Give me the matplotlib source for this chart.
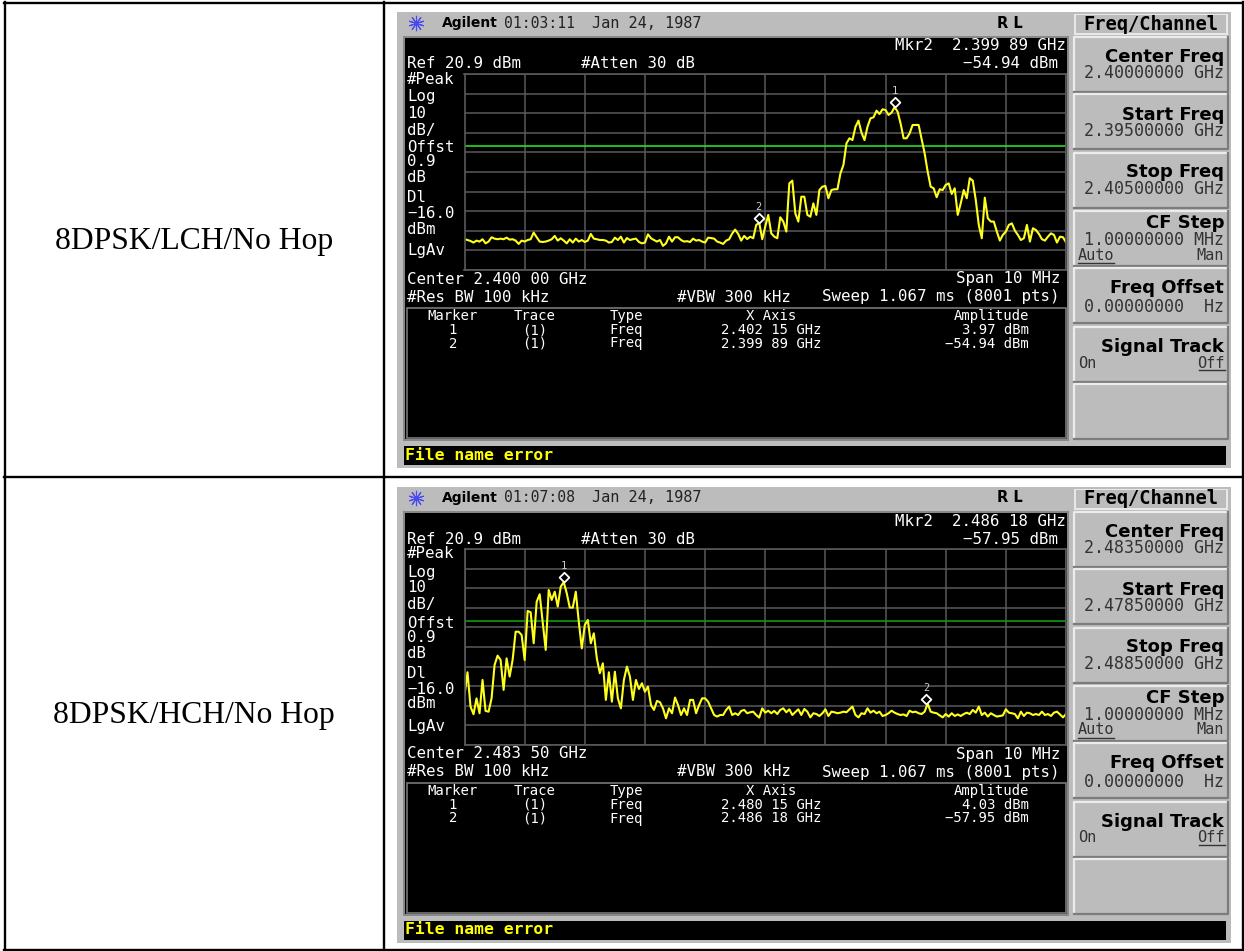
import numpy as np
import matplotlib
matplotlib.use("Agg")
import matplotlib.pyplot as plt
from matplotlib.patches import Rectangle

W, H = 1244, 951

row_labels = ["8DPSK/LCH/No Hop", "8DPSK/HCH/No Hop"]
clock = ["01:03:11", "01:07:08"]
center_text = ["2.400 00 GHz", "2.483 50 GHz"]
mkr_freq_text = ["2.399 89 GHz", "2.486 18 GHz"]
mkr_amp_text = ["\u221254.94 dBm", "\u221257.95 dBm"]
center_key = ["2.40000000 GHz", "2.48350000 GHz"]
start_key = ["2.39500000 GHz", "2.47850000 GHz"]
stop_key = ["2.40500000 GHz", "2.48850000 GHz"]
table_rows = [
    [("1", "(1)", "Freq", "2.402 15 GHz", "3.97 dBm"), ("2", "(1)", "Freq", "2.399 89 GHz", "\u221254.94 dBm")],
    [("1", "(1)", "Freq", "2.480 15 GHz", "4.03 dBm"), ("2", "(1)", "Freq", "2.486 18 GHz", "\u221257.95 dBm")],
]

start_ghz = [2.395, 2.4785]
stop_ghz = [2.405, 2.4885]
marker_x = [[2.40215, 2.39989], [2.48015, 2.48618]]
marker_y = [[3.97, -54.94], [4.03, -57.95]]
ref_level = 20.9
display_line = -16.0

# trace, one value every 0.05 MHz
trace_lch = [
    -63.4, -63.8, -64.3, -65.1, -64.1, -64.6, -63.4, -65.5, -64.6, -62.4,
    -63.1, -63.4, -63.1, -63.4, -62.6, -63.6, -63.4, -64.1, -65.8, -64.1,
    -64.6, -63.8, -63.4, -60.0, -62.4, -64.6, -64.8, -64.6, -64.1, -63.4,
    -61.7, -64.1, -62.9, -64.1, -65.5, -63.4, -65.1, -63.1, -64.6, -63.8,
    -64.8, -64.1, -60.7, -63.1, -63.4, -63.8, -63.8, -64.1, -65.1, -64.8,
    -62.6, -63.8, -62.1, -65.1, -62.8, -63.8, -63.4, -63.1, -64.8, -65.5,
    -65.1, -60.9, -62.9, -63.8, -64.6, -63.8, -66.8, -65.5, -62.1, -64.6,
    -62.4, -62.4, -63.8, -64.6, -64.4, -64.8, -63.1, -64.1, -63.8, -64.6,
    -65.1, -62.6, -62.8, -63.1, -64.6, -65.1, -65.8, -64.1, -63.4, -60.5,
    -58.5, -60.7, -64.1, -61.7, -63.3, -62.1, -62.9, -56.1, -55.0, -63.4,
    -57.0, -51.0, -60.4, -62.1, -62.9, -52.2, -54.4, -59.5, -34.9, -33.5,
    -50.2, -54.4, -41.7, -41.7, -51.0, -51.9, -45.1, -51.0, -38.3, -36.6,
    -36.2, -42.5, -38.3, -37.9, -37.9, -29.8, -25.5, -14.5, -11.9, -12.8,
    -6.0, -2.9, -9.0, -12.8, -6.0, -1.7, -1.2, 2.2, 0.5, 2.9,
    2.5, 0.0, 1.2, 4.0, 1.7, -4.3, -11.9, -11.9, -9.4, -5.1,
    -5.1, -5.1, -12.4, -19.6, -28.9, -36.6, -37.4, -42.0, -37.9, -38.3,
    -35.7, -34.9, -40.3, -37.4, -51.0, -45.1, -38.3, -42.5, -32.3, -33.5,
    -43.4, -56.1, -62.9, -42.2, -52.7, -54.4, -54.4, -59.5, -64.1, -61.2,
    -59.5, -56.1, -55.3, -59.0, -61.2, -63.8, -62.9, -56.1, -64.6, -57.8,
    -58.7, -60.7, -63.4, -64.1, -62.1, -60.4, -61.2, -65.1, -62.1, -62.4,
    -65.0,
]
trace_hch = [
    -53.6, -42.0, -59.5, -63.4, -55.3, -62.9, -45.9, -61.7, -62.1, -55.3,
    -38.3, -33.5, -35.7, -51.0, -34.9, -44.2, -35.7, -21.3, -21.3, -23.0,
    -35.7, -10.7, -11.4, -27.2, -6.0, -2.2, -16.2, -30.6, 0.0, -5.1,
    -0.9, -8.5, 1.7, 4.0, -1.7, -9.0, -9.0, -0.9, -16.2, -29.8,
    -17.9, -15.3, -27.2, -22.1, -34.9, -42.5, -37.4, -56.1, -42.0, -57.0,
    -41.7, -55.3, -60.4, -45.9, -39.1, -44.2, -56.1, -45.9, -50.5, -47.6,
    -51.9, -49.3, -58.7, -61.2, -56.6, -57.3, -60.4, -65.5, -60.4, -62.9,
    -54.9, -58.7, -63.8, -60.4, -63.8, -56.1, -56.1, -62.9, -58.7, -55.3,
    -55.3, -57.0, -60.4, -63.8, -64.6, -63.8, -63.8, -61.2, -59.5, -63.8,
    -62.9, -63.8, -61.7, -61.2, -62.9, -62.4, -62.1, -63.8, -65.1, -60.4,
    -62.6, -61.6, -62.9, -61.7, -63.3, -61.2, -60.4, -62.4, -60.9, -63.8,
    -62.3, -60.9, -63.8, -60.7, -62.1, -65.0, -62.9, -63.3, -64.3, -62.9,
    -60.9, -64.3, -62.1, -62.4, -62.9, -62.6, -62.1, -62.4, -60.9, -59.5,
    -63.8, -65.0, -62.9, -63.3, -60.4, -62.6, -61.6, -62.9, -62.1, -64.3,
    -63.8, -62.9, -61.6, -62.6, -63.3, -63.8, -63.5, -64.3, -61.6, -62.4,
    -62.1, -62.9, -63.3, -62.1, -58.0, -62.1, -62.6, -62.9, -64.0, -65.0,
    -63.3, -64.6, -62.9, -64.3, -63.5, -64.3, -63.3, -62.6, -63.3, -61.2,
    -62.6, -59.5, -63.8, -62.6, -64.6, -62.9, -63.8, -64.6, -64.3, -64.0,
    -60.9, -62.6, -62.9, -63.3, -65.5, -62.1, -64.3, -62.6, -62.9, -63.8,
    -63.3, -63.8, -62.1, -63.8, -63.3, -64.3, -62.6, -62.1, -63.5, -65.0,
    -63.3,
]
traces = [trace_lch, trace_hch]
green = ["#22e022", "#0f9a0f"]

GRAY = "#bcbcbc"
MONO = "DejaVu Sans Mono"
SCREEN_SIZE = 11.3
TABLE_SIZE = 10

fig = plt.figure(figsize=(W / 100, H / 100), dpi=100, facecolor="white")
bg = fig.add_axes([0, 0, 1, 1])
bg.set_xlim(0, W)
bg.set_ylim(H, 0)
bg.axis("off")


def box(x0, y0, x1, y1, color, z=1):
    bg.add_patch(Rectangle((x0, y0), x1 - x0, y1 - y0, facecolor=color, edgecolor="none", zorder=z))


def label(x, y, s, color="white", size=SCREEN_SIZE, ha="left", weight="normal", family=MONO):
    bg.text(x, y, s, color=color, fontsize=size, ha=ha, va="center", weight=weight, family=family, zorder=5)


def softkey(x0, y0, x1, y1):
    box(x0, y0, x1, y1, GRAY, 2)
    bg.plot([x0, x0, x1], [y1, y0, y0], color="#ececec", lw=1.6, zorder=3)
    bg.plot([x0, x1, x1], [y1, y1, y0], color="#7c7c7c", lw=1.6, zorder=3)


# table lines
for x in (5, 384, 1243):
    bg.plot([x, x], [2, 950], color="black", lw=1.7, zorder=6)
for y in (3, 477, 950):
    bg.plot([4, 1244], [y, y], color="black", lw=1.7, zorder=6)

for n in range(2):
    dy = 475 * n
    label(194, 241 + dy, row_labels[n], color="black", size=22.8, ha="center", family="Liberation Serif")

    # screen frame
    box(397, 12 + dy, 1231, 468 + dy, GRAY)
    box(403, 36 + dy, 1069, 441 + dy, "#888888")
    box(405, 38 + dy, 1067, 439 + dy, "black", 2)
    box(404, 446 + dy, 1226, 465 + dy, "black", 2)
    label(405, 455 + dy, "File name error", color="#ffff00", size=11.8, weight="bold")

    # header
    bg.plot([416], [23 + dy], marker=(10, 2, 0), color="#4a4af0", ms=11, mew=0.8, zorder=4)
    label(442, 23 + dy, "Agilent", color="black", size=10, weight="bold", family="DejaVu Sans")
    label(504, 23 + dy, clock[n], color="#222222", size=10.6)
    label(592, 23 + dy, "Jan 24, 1987", color="#222222", size=11)
    label(997, 23 + dy, "R L", color="black", size=10.5, weight="bold", family="DejaVu Sans")

    # readouts
    label(1066, 46 + dy, "Mkr2  " + mkr_freq_text[n], ha="right")
    label(407, 64 + dy, "Ref 20.9 dBm")
    label(581, 64 + dy, "#Atten 30 dB")
    label(1058, 64 + dy, mkr_amp_text[n], ha="right")
    side = [("#Peak", 79), ("Log", 97), ("10", 113), ("dB/", 130), ("Offst", 148), ("0.9", 162),
            ("dB", 178), ("Dl", 198), ("\u221216.0", 214), ("dBm", 229), ("LgAv", 251)]
    for s, y in side:
        label(407, y + dy, s)
    label(407, 279 + dy, "Center " + center_text[n])
    label(1061, 279 + dy, "Span 10 MHz", ha="right")
    label(407, 297 + dy, "#Res BW 100 kHz")
    label(677, 297 + dy, "#VBW 300 kHz")
    label(1059, 297 + dy, "Sweep 1.067 ms (8001 pts)", ha="right")

    # marker table
    bg.add_patch(Rectangle((407, 308 + dy), 659, 130, facecolor="none", edgecolor="#777777", lw=1.2, zorder=3))
    label(453, 316 + dy, "Marker", ha="center", size=TABLE_SIZE)
    label(535, 316 + dy, "Trace", ha="center", size=TABLE_SIZE)
    label(626, 316 + dy, "Type", ha="center", size=TABLE_SIZE)
    label(771, 316 + dy, "X Axis", ha="center", size=TABLE_SIZE)
    label(1029, 316 + dy, "Amplitude", ha="right", size=TABLE_SIZE)
    for k, row in enumerate(table_rows[n]):
        y = 330 + 13.5 * k + dy
        label(453, y, row[0], ha="center", size=TABLE_SIZE)
        label(535, y, row[1], ha="center", size=TABLE_SIZE)
        label(626, y, row[2], ha="center", size=TABLE_SIZE)
        label(771, y, row[3], ha="center", size=TABLE_SIZE)
        label(1029, y, row[4], ha="right", size=TABLE_SIZE)

    # softkeys
    box(1074, 14 + dy, 1228, 35 + dy, "#e8e8e8", 2)
    box(1076, 15 + dy, 1226, 33 + dy, GRAY, 2)
    label(1151, 24 + dy, "Freq/Channel", color="black", size=13.5, ha="center", weight="bold")
    keys = [("Center Freq", center_key[n], 20, 36), ("Start Freq", start_key[n], 21, 37),
            ("Stop Freq", stop_key[n], 19, 36), ("CF Step", "1.00000000 MHz", 12, 29),
            ("Freq Offset", "0.00000000  Hz", 20, 39), ("Signal Track", "", 20, 0), ("", "", 0, 0)]
    tops = [37, 94, 153, 211, 268, 327, 384]
    for (title, sub, title_dy, sub_dy), top in zip(keys, tops):
        softkey(1074, top + dy, 1228, top + 55 + dy)
        if title:
            label(1224, top + title_dy + dy, title, color="black", size=13, ha="right", weight="bold", family="DejaVu Sans")
        if sub:
            label(1224, top + sub_dy + dy, sub, color="#333333", size=12, ha="right")
    label(1078, 255 + dy, "Auto", color="#333333", size=11)
    bg.plot([1078, 1114], [263 + dy, 263 + dy], color="#333333", lw=1, zorder=5)
    label(1224, 255 + dy, "Man", color="#333333", size=11, ha="right")
    label(1078, 363 + dy, "On", color="#333333", size=11)
    label(1224, 363 + dy, "Off", color="#333333", size=11, ha="right")
    bg.plot([1199, 1225], [370 + dy, 370 + dy], color="#333333", lw=1, zorder=5)

    # spectrum plot
    ax = fig.add_axes([464.5 / W, 1 - (270 + dy) / H, 601.5 / W, 196 / H], facecolor="black", zorder=4)
    ax.set_xlim(start_ghz[n], stop_ghz[n])
    ax.set_ylim(ref_level - 100, ref_level)
    ax.set_xticks(np.linspace(start_ghz[n], stop_ghz[n], 11))
    ax.set_yticks(np.linspace(ref_level - 100, ref_level, 11))
    ax.tick_params(length=0, labelbottom=False, labelleft=False)
    ax.grid(True, color="#5a5a5a", lw=1.1)
    ax.set_axisbelow(True)
    for s in ax.spines.values():
        s.set_color("#5a5a5a")
        s.set_linewidth(1.2)
    ax.axhline(display_line, color=green[n], lw=1.2)
    freq = np.linspace(start_ghz[n], stop_ghz[n], len(traces[n]))
    ax.plot(freq, traces[n], color="#ffff1e", lw=1.5)
    tip = [(0, 0), (-5, 5), (0, 10), (5, 5), (0, 0)]
    for k in range(2):
        ax.plot(marker_x[n][k], marker_y[n][k], marker=tip, ms=14, mfc="black", mec="white", mew=1.3, zorder=5, clip_on=False)
        ax.annotate(str(k + 1), (marker_x[n][k], marker_y[n][k]), xytext=(0, 11.5), textcoords="offset points",
                    color="#cccccc", fontsize=7.5, ha="center", va="center", family=MONO)

fig.savefig("out.png", dpi=100)
